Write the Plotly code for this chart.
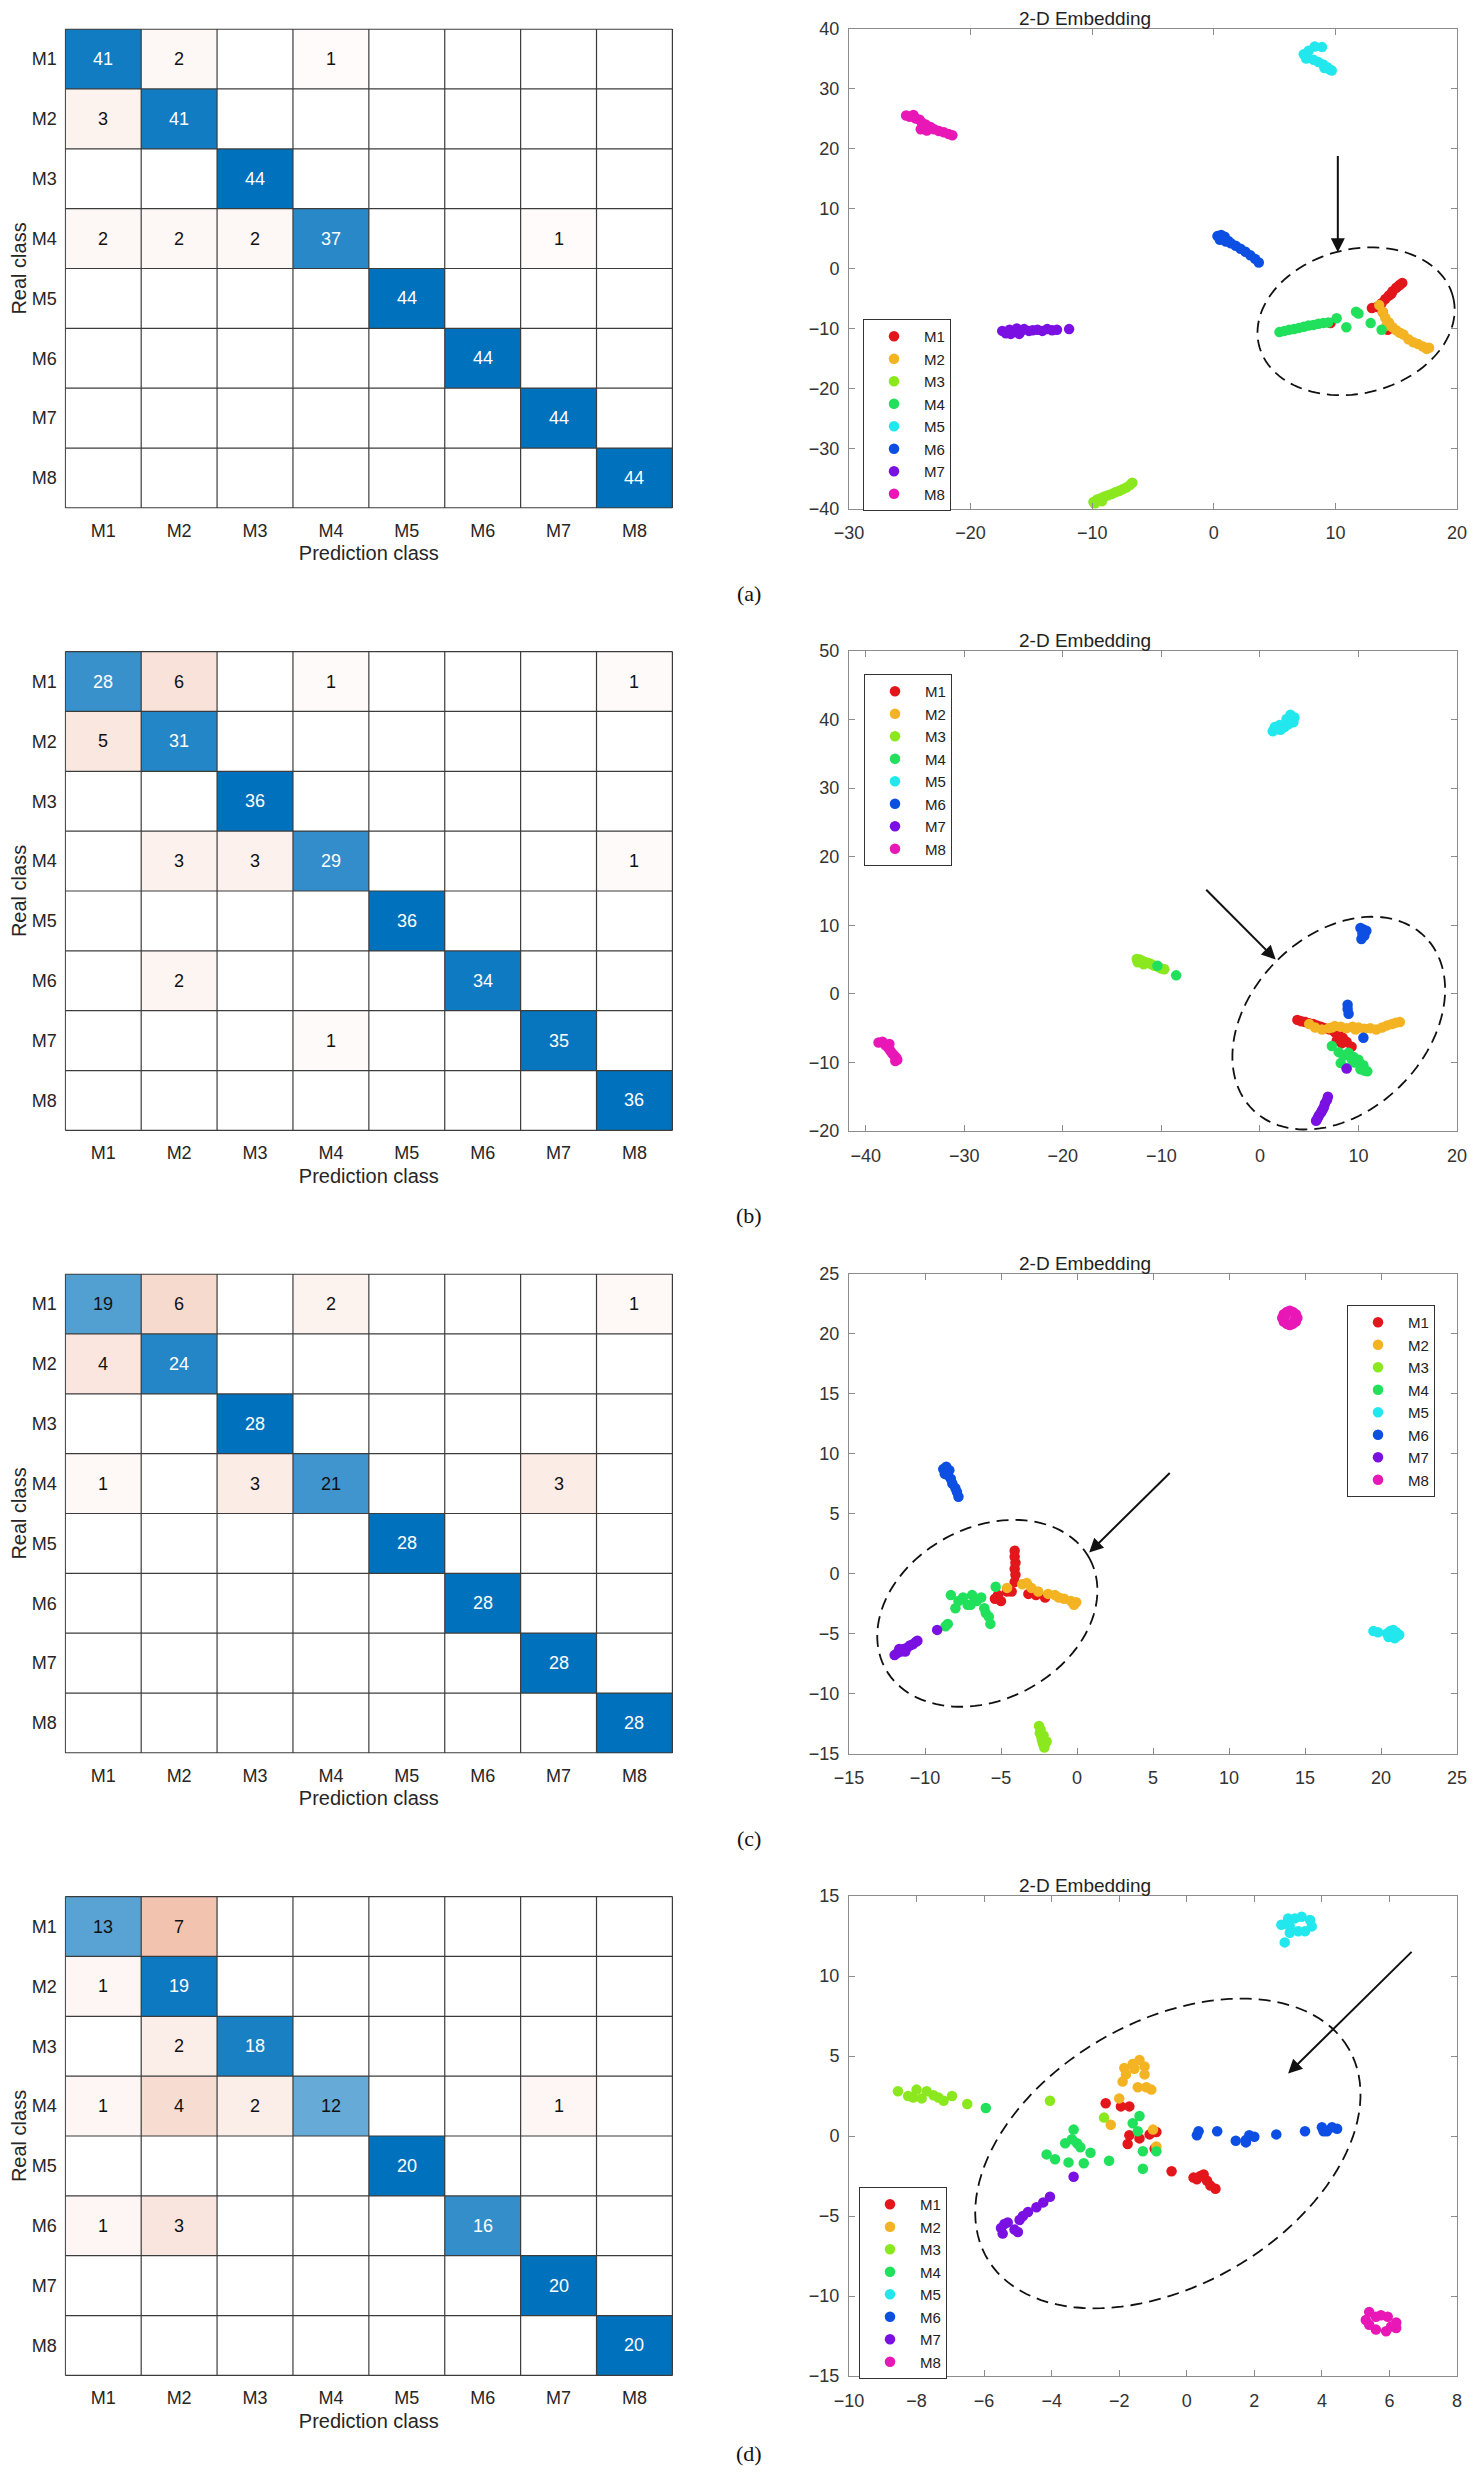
import numpy as np
import plotly.graph_objects as go
from plotly.subplots import make_subplots

classes = ['M1', 'M2', 'M3', 'M4', 'M5', 'M6', 'M7', 'M8']
class_colors = ['#E3171B', '#F4B322', '#8BE81E', '#20E05C', '#22E8EE', '#0D4FE3', '#7A10E2', '#E817B6']

# confusion matrices (rows = real class, cols = predicted class)
cm_a = [[41, 2, 0, 1, 0, 0, 0, 0],
        [3, 41, 0, 0, 0, 0, 0, 0],
        [0, 0, 44, 0, 0, 0, 0, 0],
        [2, 2, 2, 37, 0, 0, 1, 0],
        [0, 0, 0, 0, 44, 0, 0, 0],
        [0, 0, 0, 0, 0, 44, 0, 0],
        [0, 0, 0, 0, 0, 0, 44, 0],
        [0, 0, 0, 0, 0, 0, 0, 44]]
cm_b = [[28, 6, 0, 1, 0, 0, 0, 1],
        [5, 31, 0, 0, 0, 0, 0, 0],
        [0, 0, 36, 0, 0, 0, 0, 0],
        [0, 3, 3, 29, 0, 0, 0, 1],
        [0, 0, 0, 0, 36, 0, 0, 0],
        [0, 2, 0, 0, 0, 34, 0, 0],
        [0, 0, 0, 1, 0, 0, 35, 0],
        [0, 0, 0, 0, 0, 0, 0, 36]]
cm_c = [[19, 6, 0, 2, 0, 0, 0, 1],
        [4, 24, 0, 0, 0, 0, 0, 0],
        [0, 0, 28, 0, 0, 0, 0, 0],
        [1, 0, 3, 21, 0, 0, 3, 0],
        [0, 0, 0, 0, 28, 0, 0, 0],
        [0, 0, 0, 0, 0, 28, 0, 0],
        [0, 0, 0, 0, 0, 0, 28, 0],
        [0, 0, 0, 0, 0, 0, 0, 28]]
cm_d = [[13, 7, 0, 0, 0, 0, 0, 0],
        [1, 19, 0, 0, 0, 0, 0, 0],
        [0, 2, 18, 0, 0, 0, 0, 0],
        [1, 4, 2, 12, 0, 0, 1, 0],
        [0, 0, 0, 0, 20, 0, 0, 0],
        [1, 3, 0, 0, 0, 16, 0, 0],
        [0, 0, 0, 0, 0, 0, 20, 0],
        [0, 0, 0, 0, 0, 0, 0, 20]]

# 2-D embedding, panel (a)
xa_M1 = [13.0, 13.4, 13.8, 14.1, 14.4, 14.7, 15.0, 15.3, 15.5, 15.2, 14.6, 13.9, 9.6, 14.3]
ya_M1 = [-6.6, -6.4, -5.8, -5.1, -4.5, -3.8, -3.2, -2.7, -2.4, -2.9, -4.2, -7.3, -9.1, -10.2]
xa_M2 = [13.6, 13.9, 14.1, 14.4, 14.7, 15.0, 15.3, 15.6, 16.0, 16.4, 16.8, 17.2, 17.5, 17.7, 14.2]
ya_M2 = [-6.1, -7.2, -8.2, -9.0, -9.8, -10.3, -10.7, -11.0, -11.8, -12.3, -12.6, -13.0, -13.4, -13.2, -9.5]
xa_M3 = [-9.9, -9.6, -9.3, -9.0, -8.7, -8.4, -8.1, -7.8, -7.5, -7.2, -6.9, -6.7, -9.8, -9.2]
ya_M3 = [-38.9, -38.5, -38.3, -38.0, -37.8, -37.6, -37.3, -37.1, -36.8, -36.5, -36.1, -35.7, -39.2, -38.8]
xa_M4 = [5.4, 5.8, 6.2, 6.6, 7.0, 7.4, 7.8, 8.2, 8.6, 9.0, 9.4, 10.1, 10.9, 11.7, 11.9, 12.9, 13.8]
ya_M4 = [-10.6, -10.4, -10.2, -10.1, -9.9, -9.7, -9.5, -9.4, -9.2, -9.1, -9.0, -8.3, -9.8, -7.2, -7.5, -9.1, -10.2]
xa_M5 = [8.3, 8.9, 7.8, 7.4, 7.6, 8.2, 8.6, 9.0, 9.3, 9.5, 9.7, 9.1]
ya_M5 = [37.0, 36.9, 36.3, 35.7, 35.0, 34.8, 34.4, 34.0, 33.6, 33.2, 33.0, 33.4]
xa_M6 = [0.3, 0.6, 0.9, 0.5, 1.0, 1.4, 1.8, 2.2, 2.6, 3.0, 3.4, 3.7, 0.8, 1.2]
ya_M6 = [5.4, 5.6, 5.3, 4.8, 4.5, 4.2, 3.8, 3.3, 2.8, 2.2, 1.6, 1.0, 4.9, 4.6]
xa_M7 = [-17.4, -17.1, -16.8, -16.5, -16.2, -15.9, -15.6, -15.2, -14.9, -14.5, -14.1, -13.7, -13.3, -12.9, -11.9, -16.7, -16.0]
ya_M7 = [-10.4, -10.8, -10.2, -10.6, -10.0, -10.5, -10.1, -10.4, -10.3, -10.2, -10.4, -10.1, -10.3, -10.2, -10.1, -10.9, -10.9]
xa_M8 = [-25.3, -25.0, -24.7, -24.5, -24.2, -24.0, -23.7, -23.3, -23.0, -22.6, -22.2, -21.8, -21.5, -24.1, -23.6]
ya_M8 = [25.5, 25.3, 25.6, 25.0, 24.8, 24.3, 24.0, 23.6, 23.2, 22.9, 22.7, 22.4, 22.2, 23.2, 23.0]

# panel (b)
xb_M1 = [3.8, 4.2, 4.6, 5.0, 5.4, 5.8, 6.2, 6.6, 7.1, 7.6, 8.0, 8.4, 8.8, 9.3, 7.8, 8.3]
yb_M1 = [-3.8, -4.0, -4.1, -4.3, -4.4, -4.6, -4.8, -5.0, -5.2, -5.6, -6.0, -6.4, -7.0, -7.7, -6.8, -7.2]
xb_M2 = [5.0, 5.6, 6.3, 7.0, 7.6, 8.2, 8.8, 9.4, 10.0, 10.6, 11.2, 11.8, 12.4, 12.9, 13.4, 13.8, 14.2, 7.3, 9.7]
yb_M2 = [-4.4, -4.9, -5.2, -5.0, -4.7, -4.8, -5.0, -4.8, -4.9, -5.1, -5.0, -5.2, -4.9, -4.6, -4.4, -4.2, -4.1, -4.9, -5.2]
xb_M3 = [-12.5, -12.2, -11.9, -11.6, -11.3, -11.0, -10.7, -10.3, -10.0, -9.7, -12.4, -11.8]
yb_M3 = [5.1, 5.0, 4.8, 4.6, 4.5, 4.3, 4.1, 3.9, 3.7, 3.6, 4.6, 4.3]
xb_M4 = [-10.4, -8.5, 7.3, 8.0, 8.5, 9.0, 9.5, 10.0, 10.5, 10.9, 8.2, 8.8, 9.6, 10.2, 10.6, 9.3]
yb_M4 = [4.1, 2.7, -7.6, -8.5, -9.0, -8.6, -9.2, -9.6, -10.4, -11.3, -10.1, -10.8, -10.0, -11.0, -11.2, -9.5]
xb_M5 = [1.3, 1.7, 2.1, 2.5, 2.9, 3.2, 3.5, 3.1, 2.7, 2.0, 1.5, 3.4]
yb_M5 = [38.3, 38.6, 38.5, 38.9, 39.3, 39.8, 40.3, 40.7, 40.1, 39.2, 38.9, 39.6]
xb_M6 = [10.2, 10.5, 10.8, 10.4, 10.6, 10.3, 8.9, 8.9, 9.0, 10.5]
yb_M6 = [9.6, 9.4, 9.2, 8.8, 8.5, 8.0, -1.6, -2.2, -2.9, -6.4]
xb_M7 = [6.9, 6.8, 6.6, 6.5, 6.3, 6.2, 6.0, 5.9, 5.8, 5.7, 6.4, 8.8]
yb_M7 = [-15.0, -15.5, -16.0, -16.5, -17.0, -17.3, -17.7, -18.0, -18.3, -18.5, -16.8, -10.9]
xb_M8 = [-38.7, -38.3, -38.0, -37.7, -37.5, -37.3, -37.1, -36.9, -36.8, -37.6, -37.0]
yb_M8 = [-7.1, -7.0, -7.5, -7.9, -8.3, -8.7, -9.0, -9.3, -9.6, -7.3, -9.8]

# panel (c)
xc_M1 = [-4.1, -4.1, -4.05, -4.1, -4.05, -4.1, -5.2, -5.0, -4.6, -4.3, -3.2, -2.7, -2.1, -5.4]
yc_M1 = [1.9, 1.4, 0.9, 0.4, -0.1, -0.7, -1.8, -2.3, -1.5, -1.5, -1.7, -1.8, -2.0, -2.1]
xc_M2 = [-4.6, -3.6, -3.3, -2.55, -1.9, -1.45, -0.85, -0.4, -0.05, -0.2, -3.0, -1.2]
yc_M2 = [-1.2, -0.9, -0.8, -1.5, -1.7, -1.8, -2.1, -2.3, -2.4, -2.6, -1.2, -2.0]
xc_M3 = [-2.5, -2.4, -2.45, -2.35, -2.3, -2.25, -2.2, -2.15, -2.1, -2.0, -2.2]
yc_M3 = [-12.7, -13.0, -13.3, -13.6, -13.9, -14.1, -14.3, -14.5, -14.2, -14.0, -13.5]
xc_M4 = [-8.3, -7.5, -7.2, -8.0, -6.6, -6.1, -6.0, -5.7, -5.35, -8.5, -8.65, -6.9, -6.3, -5.8, -7.8, -7.0]
yc_M4 = [-1.8, -2.0, -2.6, -2.9, -2.3, -2.9, -3.3, -4.2, -1.1, -4.2, -4.4, -1.8, -2.0, -3.6, -2.3, -2.6]
xc_M5 = [19.5, 19.8, 20.4, 20.6, 20.8, 21.0, 21.2, 20.5, 20.9, 21.1, 20.7]
yc_M5 = [-4.8, -4.9, -5.0, -4.8, -4.7, -4.9, -5.1, -5.3, -5.4, -5.2, -5.1]
xc_M6 = [-8.8, -8.6, -8.4, -8.7, -8.5, -8.3, -8.2, -8.0, -7.9, -7.8, -8.6]
yc_M6 = [8.7, 8.9, 8.6, 8.3, 8.2, 7.9, 7.5, 7.1, 6.8, 6.4, 8.5]
xc_M7 = [-12.0, -11.8, -11.6, -11.4, -11.2, -11.0, -10.8, -10.6, -10.5, -11.7, -11.3, -9.2]
yc_M7 = [-6.8, -6.6, -6.5, -6.3, -6.2, -6.0, -5.9, -5.7, -5.6, -6.3, -6.5, -4.7]
xc_M8 = [13.5, 13.6, 13.8, 14.0, 14.2, 14.4, 14.5, 14.4, 14.2, 14.0, 13.8, 13.6, 13.7, 14.3]
yc_M8 = [21.3, 21.6, 21.8, 21.9, 21.8, 21.6, 21.3, 21.0, 20.8, 20.7, 20.8, 21.0, 21.5, 21.1]

# panel (d)
xd_M1 = [-2.4, -1.95, -1.7, -1.7, -1.75, -1.4, -1.1, -0.9, -0.45, 0.2, 0.4, 0.5, 0.6, 0.7, 0.85, 0.3, -0.95]
yd_M1 = [2.05, 1.85, 1.85, 0.05, -0.5, -0.15, 0.1, 0.25, -2.2, -2.6, -2.5, -2.4, -2.8, -3.1, -3.3, -2.7, -0.8]
xd_M2 = [-1.85, -1.6, -1.4, -1.25, -1.8, -1.9, -1.45, -1.25, -1.2, -1.05, -2.0, -2.25, -1.0, -0.9, -1.55]
yd_M2 = [4.25, 4.5, 4.75, 4.35, 3.85, 3.4, 3.05, 3.85, 3.05, 2.9, 2.35, 0.7, 0.4, -0.65, 4.2]
xd_M3 = [-8.55, -8.25, -8.0, -7.7, -7.5, -7.35, -7.2, -6.95, -8.1, -6.5, -4.05, -2.45, -7.85]
yd_M3 = [2.8, 2.5, 2.9, 2.8, 2.55, 2.4, 2.2, 2.5, 2.4, 2.0, 2.2, 1.15, 2.35]
xd_M4 = [-5.95, -4.15, -3.9, -3.6, -3.5, -3.35, -3.25, -3.15, -3.05, -2.85, -2.3, -1.6, -1.45, -1.4, -1.3, -1.3, -0.9, -3.4]
yd_M4 = [1.75, -1.15, -1.45, -0.45, -1.65, 0.4, -0.45, -0.7, -1.7, -1.05, -1.55, 0.8, 0.3, 1.25, -0.95, -2.05, -0.95, -0.2]
xd_M5 = [2.8, 3.0, 3.4, 3.65, 3.7, 3.5, 3.3, 3.05, 2.9, 3.05, 3.2]
yd_M5 = [13.2, 13.6, 13.7, 13.5, 13.1, 12.8, 12.8, 12.7, 12.1, 13.1, 13.6]
xd_M6 = [0.3, 0.35, 0.9, 1.45, 1.75, 1.85, 2.0, 2.65, 3.5, 4.0, 4.15, 4.3, 4.45, 4.05, 1.75]
yd_M6 = [0.05, 0.3, 0.3, -0.3, -0.25, 0.05, -0.05, 0.1, 0.3, 0.55, 0.3, 0.55, 0.45, 0.3, -0.4]
xd_M7 = [-3.35, -4.05, -4.25, -4.45, -4.7, -4.85, -4.95, -5.1, -5.4, -5.5, -5.45, -5.3, -5.0]
yd_M7 = [-2.55, -3.8, -4.15, -4.45, -4.75, -5.0, -5.25, -5.85, -5.5, -5.75, -6.1, -5.4, -6.0]
xd_M8 = [5.4, 5.6, 5.95, 6.2, 6.2, 5.9, 5.6, 5.4, 5.3, 6.05, 5.75]
yd_M8 = [-11.0, -11.3, -11.3, -11.65, -12.0, -12.2, -12.1, -11.8, -11.5, -11.9, -11.2]

axis_ranges = {'a': ([-30, 20], 10, [-40, 40], 10),
               'b': ([-41.7, 20], 10, [-20, 50], 10),
               'c': ([-15, 25], 5, [-15, 25], 5),
               'd': ([-10, 8], 2, [-15, 15], 5)}

g = globals()
panels = []
for key, cm in zip('abcd', [cm_a, cm_b, cm_c, cm_d]):
    pts = [(g['x%s_%s' % (key, c)], g['y%s_%s' % (key, c)]) for c in classes]
    panels.append((key, cm, pts))

# layout in reference pixels (body margin of 8px is taken into account)
W, H = 1481, 2477
OFF = 8
FW, FH = W - 2 * OFF, H - 2 * OFF
def fx(p):
    return (p - OFF) / FW
def fy(p):
    return 1 - (p - OFF) / FH

row_tops = [28.5, 651, 1273.5, 1896]
panel_h = 480
heat_l, heat_r = 64.7, 673
scat_l, scat_r = 849, 1457

FONT = 'Liberation Sans, Arial, Helvetica, sans-serif'

fig = make_subplots(rows=4, cols=2)

# ellipse (center, semi axes in px, angle) and arrows (head, tail) per panel
ellipses = {'a': (11.7, -8.8, 100, 72, 14),
            'b': (8.0, -4.27, 122, 88, 45),
            'c': (-5.9, -3.32, 116, 86, 28),
            'd': (-0.56, -1.09, 209, 132, 30)}
arrows = {'a': (10.2, 2.7, 10.2, 19.0),
          'b': (1.6, 5.0, -5.6, 15.4),
          'c': (0.8, 1.75, 6.2, 8.5),
          'd': (3.0, 3.9, 6.7, 11.6)}
legend_pos = {'a': (863, 319), 'b': (864, 674), 'c': (1347, 1305), 'd': (859, 2187)}
captions = {'a': 593, 'b': 1216, 'c': 1838, 'd': 2453}

def ellipse_path(cx, cy, a, b, ang, ux, uy, n=120):
    t = np.linspace(0, 2 * np.pi, n)
    ca, sa = np.cos(np.radians(ang)), np.sin(np.radians(ang))
    px = a * np.cos(t) * ca - b * np.sin(t) * sa
    py = a * np.cos(t) * sa + b * np.sin(t) * ca
    xs = cx + px / ux
    ys = cy + py / uy
    return 'M ' + ' L '.join('%.4f,%.4f' % (x, y) for x, y in zip(xs, ys)) + ' Z'

for r, (key, cm, pts) in enumerate(panels):
    row = r + 1
    hx = 'x' if r == 0 else 'x%d' % (2 * r + 1)
    hy = 'y' if r == 0 else 'y%d' % (2 * r + 1)
    sx = 'x%d' % (2 * r + 2)
    sy = 'y%d' % (2 * r + 2)
    top = row_tops[r]
    bot = top + panel_h

    # ---- confusion matrix ----
    z = np.array(cm, dtype=float)
    zmax = z.max()
    diag = np.full_like(z, np.nan)
    np.fill_diagonal(diag, np.diag(z))
    off = z.copy()
    np.fill_diagonal(off, 0)
    fig.add_trace(go.Heatmap(z=off, x=classes, y=classes, zmin=0, zmax=zmax,
                             colorscale=[[0, '#ffffff'], [1, '#D95319']],
                             showscale=False, hoverinfo='skip'), row=row, col=1)
    fig.add_trace(go.Heatmap(z=diag, x=classes, y=classes, zmin=0, zmax=zmax,
                             colorscale=[[0, '#ffffff'], [1, '#0072BD']],
                             showscale=False, hoverinfo='skip'), row=row, col=1)
    for i in range(8):
        for j in range(8):
            v = cm[i][j]
            if v > 0:
                col = 'white' if (i == j and v / zmax > 0.76) else '#111111'
                fig.add_annotation(x=classes[j], y=classes[i], xref=hx, yref=hy,
                                   text=str(v), showarrow=False,
                                   font=dict(family=FONT, size=18, color=col))
    for k in range(9):
        fig.add_shape(type='line', xref=hx, yref=hy, x0=k - 0.5, x1=k - 0.5, y0=-0.5, y1=7.5,
                      line=dict(color='#3c3c3c', width=1.2))
        fig.add_shape(type='line', xref=hx, yref=hy, y0=k - 0.5, y1=k - 0.5, x0=-0.5, x1=7.5,
                      line=dict(color='#3c3c3c', width=1.2))
    fig.update_xaxes(domain=[fx(heat_l), fx(heat_r)], showgrid=False, zeroline=False,
                     ticks='', showline=False, tickfont=dict(family=FONT, size=18, color='#262626'),
                     ticklabelstandoff=9,
                     title=dict(text='Prediction class', standoff=6,
                                font=dict(family=FONT, size=20, color='#262626')),
                     automargin=False, row=row, col=1)
    fig.update_yaxes(domain=[fy(bot), fy(top)], showgrid=False, zeroline=False,
                     ticks='', showline=False, autorange='reversed',
                     tickfont=dict(family=FONT, size=18, color='#262626'),
                     ticklabelstandoff=7,
                     title=dict(text='Real class', standoff=6,
                                font=dict(family=FONT, size=20, color='#262626')),
                     automargin=False, row=row, col=1)

    # ---- 2-D embedding ----
    lname = 'legend' if r == 0 else 'legend%d' % (r + 1)
    for c, (xs, ys), colr in zip(classes, pts, class_colors):
        fig.add_trace(go.Scatter(x=xs, y=ys, mode='markers', name=c, legend=lname,
                                 marker=dict(color=colr, size=10.5, line=dict(width=0))),
                      row=row, col=2)
    xr, xd, yr, yd = axis_ranges[key]
    common = dict(showgrid=False, zeroline=False, ticks='inside', ticklen=6, tickwidth=1,
                  tickcolor='#8c8c8c', showline=True, linecolor='#8c8c8c', linewidth=1,
                  mirror='ticks', tickfont=dict(family=FONT, size=18, color='#333333'),
                  automargin=False)
    fig.update_xaxes(domain=[fx(scat_l), fx(scat_r)], range=xr, tick0=0, dtick=xd,
                     ticklabelstandoff=8, row=row, col=2, **common)
    fig.update_yaxes(domain=[fy(bot), fy(top)], range=yr, tick0=0, dtick=yd,
                     ticklabelstandoff=5, row=row, col=2, **common)

    fig.add_annotation(text='2-D Embedding', xref='paper', yref='paper',
                       x=fx((scat_l + scat_r) / 2), y=fy(top - 10.5), yanchor='middle',
                       showarrow=False, font=dict(family=FONT, size=19, color='#222222'))

    ux = (scat_r - scat_l) / (xr[1] - xr[0])
    uy = panel_h / (yr[1] - yr[0])
    cx, cy, ea, eb, ang = ellipses[key]
    fig.add_shape(type='path', xref=sx, yref=sy,
                  path=ellipse_path(cx, cy, ea, eb, ang, ux, uy),
                  line=dict(color='#111111', width=1.8, dash='12px,7px'))
    hx_, hy_, tx, ty = arrows[key]
    fig.add_annotation(x=hx_, y=hy_, ax=tx, ay=ty, xref=sx, yref=sy, axref=sx, ayref=sy,
                       text='', showarrow=True, arrowhead=2, arrowsize=1.4,
                       arrowwidth=2, arrowcolor='#111111')

    lx, ly = legend_pos[key]
    fig.update_layout({lname: dict(x=fx(lx), y=fy(ly), xanchor='left', yanchor='top',
                                   bgcolor='white', bordercolor='#333333', borderwidth=1,
                                   font=dict(family=FONT, size=15, color='#222222'),
                                   itemwidth=50, tracegroupgap=0)})

    fig.add_annotation(text='(%s)' % key, xref='paper', yref='paper',
                       x=fx(749), y=fy(captions[key]), yanchor='middle', showarrow=False,
                       font=dict(family='Liberation Serif, Times New Roman, serif', size=22,
                                 color='#111111'))

fig.update_layout(width=FW, height=FH, template='none', showlegend=True,
                  paper_bgcolor='white', plot_bgcolor='white',
                  margin=dict(l=0, r=0, t=0, b=0))

fig.write_html('out.html')
